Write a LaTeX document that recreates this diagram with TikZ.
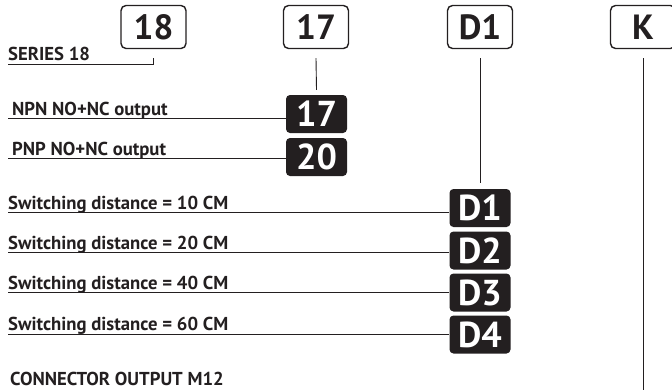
\documentclass[tikz,border=0pt]{standalone}
\usepackage{fontspec}
\setmainfont{PT Sans}
\definecolor{ink}{HTML}{231F20}
\begin{document}
\begin{tikzpicture}[x=1pt,y=-1pt,
  codebox/.style={draw=ink, line width=1.4pt, rounded corners=5pt, minimum width=65pt, minimum height=43pt, inner sep=0pt, text=ink, font=\bfseries\fontsize{35}{35}\selectfont},
  optbox/.style={fill=ink, rounded corners=4pt, minimum width=61pt, minimum height=38pt, inner sep=0pt, text=white, font=\bfseries\fontsize{36}{36}\selectfont},
  lbl/.style={anchor=base west, inner sep=0pt, text=ink, font=\bfseries\fontsize{18.7}{18.7}\selectfont},
  link/.style={draw=ink, line width=0.9pt}]
\useasboundingbox (0,0) rectangle (672,389);
% header boxes
\node[codebox] (b18) at (153.5,27) {18};
\node[codebox] (b17) at (316,27) {17};
\node[codebox] (bD1) at (480,27) {D1};
\node[codebox] (bK) at (643,27) {K};
% option boxes
\node[optbox] (o17) at (316.5,114) {17};
\node[optbox] (o20) at (316.5,157) {20};
\node[optbox] (oD1) at (480,208) {D1};
\node[optbox] (oD2) at (480,250.5) {D2};
\node[optbox] (oD3) at (480,292.5) {D3};
\node[optbox] (oD4) at (480,334.5) {D4};
% labels
\node[lbl] (ser) at (8,60) {SERIES 18};
\node[lbl] (npn) at (12,115.5) {NPN NO+NC output};
\node[lbl] (pnp) at (12,155.5) {PNP NO+NC output};
\node[lbl] (s10) at (8,209) {Switching distance = 10 CM};
\node[lbl] (s20) at (8,249) {Switching distance = 20 CM};
\node[lbl] (s40) at (8,289.5) {Switching distance = 40 CM};
\node[lbl] (s60) at (8,330.5) {Switching distance = 60 CM};
\node[lbl] (con) at (10,385) {CONNECTOR OUTPUT M12};
% connector start points
\coordinate (serL) at (8,64);
\coordinate (npnL) at (8,118.5);
\coordinate (pnpL) at (8,158);
\coordinate (s10L) at (8,212);
\coordinate (s20L) at (8,252);
\coordinate (s40L) at (8,292.5);
\coordinate (s60L) at (8,334);
\coordinate (kend) at (643,392);
% connectors
\draw[link] (serL) -- (serL -| b18.south) -- ([yshift=-9pt]b18.south);
\draw[link] ([yshift=-9pt]b17.south) -- ([yshift=5pt]o17.north);
\draw[link] ([yshift=-9pt]bD1.south) -- ([yshift=6pt]oD1.north);
\draw[link] ([yshift=-9pt]bK.south) -- (kend);
\draw[link] (npnL) -- (npnL -| o17.west);
\draw[link] (pnpL) -- (pnpL -| o20.west);
\draw[link] (s10L) -- (s10L -| oD1.west);
\draw[link] (s20L) -- (s20L -| oD2.west);
\draw[link] (s40L) -- (s40L -| oD3.west);
\draw[link] (s60L) -- (s60L -| oD4.west);
\end{tikzpicture}
\end{document}
